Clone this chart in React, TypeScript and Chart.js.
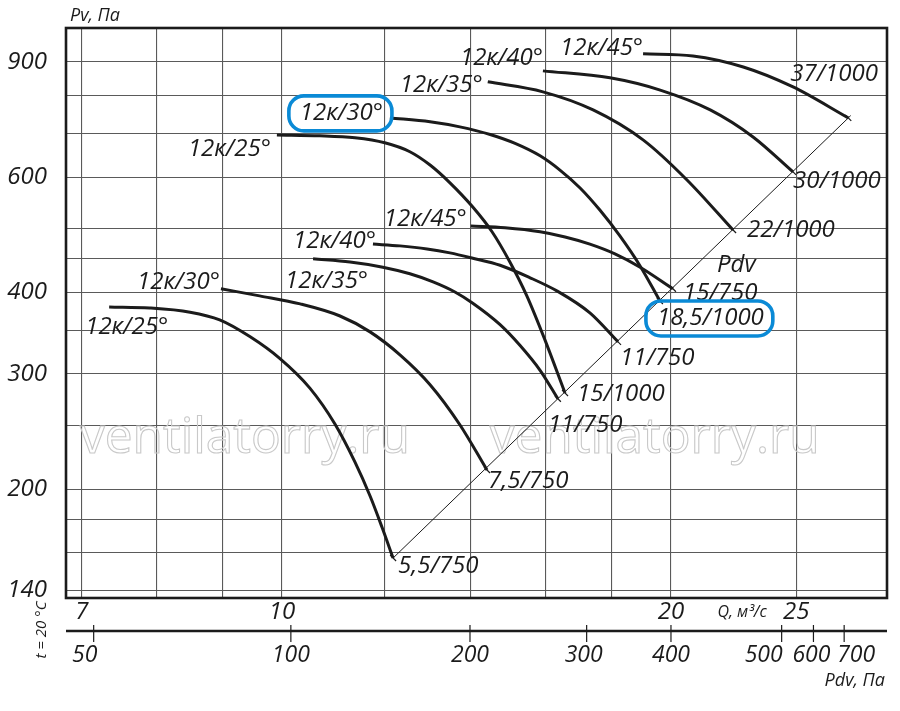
import React, { useEffect, useRef } from 'react';
import { Chart, registerables } from 'chart.js';

Chart.register(...registerables);

const FONT = '"Open Sans", "DejaVu Sans", sans-serif';
const INK = '#1b1b1b';

// ---- Axes ----
const qGrid = [7, 8, 9, 10, 12, 14, 16, 18, 20, 25];
const qLabels = [7, 10, 20, 25];
const qMin = 6.806;
const qMax = 29.39;

const pGrid = [140, 160, 180, 200, 250, 300, 350, 400, 450, 500, 600, 700, 800, 900];
const pLabels = [140, 200, 300, 400, 600, 900];
const pMin = 136.4;
const pMax = 1014;

// Pdv scale (Pa) and where each tick sits on the Q axis
const pdvTicks = [50, 100, 200, 300, 400, 500, 600, 700];
const pdvAtQ = [7.15, 10.16, 13.98, 17.21, 20, 24.36, 25.78, 27.23];
const pdvLabelShift = [-9, 0, 0, -3, 0, -18, -2, 12];

// ---- Curves, 750 rpm ----
const q750_25 = [7.35, 7.9, 8.49, 8.95, 9.45, 9.96, 10.51, 10.99, 11.39, 11.7, 11.95, 12.19];
const p750_25 = [380, 378.5, 373, 363, 342, 317, 285.5, 251.6, 220, 195.3, 175.1, 157];

const q750_30 = [8.97, 9.61, 10.33, 11.09, 11.7, 12.34, 13.02, 13.73, 14.41];
const p750_30 = [405, 395, 384, 368, 348, 321, 289, 251, 214];

const q750_35 = [10.57, 11.29, 11.97, 12.56, 13.09, 13.61, 14.05, 14.75, 15.28, 15.84, 16.35];
const p750_35 = [450, 445, 437, 427, 415, 400.5, 385, 357, 332, 304, 275];

const q750_40 = [11.76, 12.34, 12.95, 13.49, 14.05, 14.75, 15.56, 16.32, 17.31, 18.2];
const p750_40 = [474, 471, 466, 459.5, 451, 440, 421, 402, 372, 336];

const q750_45 = [14.0, 14.88, 15.84, 16.56, 17.31, 18.1, 18.93, 20.07];
const p750_45 = [505, 502, 495, 486, 474, 458, 437, 405];

// ---- Curves, 1000 rpm ----
const q1000_25 = [9.91, 10.7, 11.39, 12.01, 12.56, 13.02, 13.49, 14.05, 14.54, 15.01, 15.47, 15.98, 16.56];
const p1000_25 = [696, 694, 689, 677, 656, 626, 588, 540, 495, 445, 395, 338, 280.6];

const q1000_30 = [12.12, 13.02, 13.73, 14.49, 15.15, 15.84, 16.41, 17.01, 17.62, 18.26, 18.93, 19.61];
const p1000_30 = [739, 729, 716, 697, 675.5, 646.6, 615, 577.5, 534.3, 487.8, 438.9, 388];

const q1000_35 = [14.43, 15.92, 17.41, 19.03, 20.58, 22.34];
const p1000_35 = [839, 810, 760, 684, 594, 498];

const q1000_40 = [15.92, 17.94, 19.62, 21.45, 23.15, 24.86];
const p1000_40 = [872, 851, 815, 760, 691, 611];

const q1000_45 = [19.03, 20.8, 22.75, 24.86, 27.43];
const p1000_45 = [926, 919, 884, 824, 739];

// Pdv line (dynamic pressure)
const qPdvLine = [12.19, 27.55];
const pPdvLine = [157, 745];

const angleNames = ['12к/25°', '12к/30°', '12к/35°', '12к/40°', '12к/45°', '12к/25°', '12к/30°', '12к/35°', '12к/40°', '12к/45°'];
const powerNames = ['5,5/750', '7,5/750', '11/750', '11/750', '15/750', '15/1000', '18,5/1000', '22/1000', '30/1000', '37/1000'];

const curveQ = [q750_25, q750_30, q750_35, q750_40, q750_45, q1000_25, q1000_30, q1000_35, q1000_40, q1000_45];
const curveP = [p750_25, p750_30, p750_35, p750_40, p750_45, p1000_25, p1000_30, p1000_35, p1000_40, p1000_45];

// label layout: offsets in px (left edge, vertical middle) from curve start / end
const angleOffsets: [number, number][] = [
  [-24, 20], [-84, -7], [-28, 22], [-80, -3], [-87, -7],
  [-89, 14], [-90, -5], [-88, 3], [-83, -13], [-83, -6],
];
const powerOffsets: [number, number][] = [
  [5, 8], [1, 11], [-10, 26], [2, 16], [10, 4],
  [12, 1], [-3, 17], [14, 0], [0, 9], [-58, -44],
];
const boxedAngle = [6];
const boxedPower = [6];

const decorPlugin = {
  id: 'decor',
  beforeDraw(chart: any) {
    const { ctx } = chart;
    ctx.save();
    ctx.fillStyle = '#ffffff';
    ctx.fillRect(0, 0, chart.width, chart.height);
    ctx.restore();
  },
  beforeDatasetsDraw(chart: any) {
    const { ctx, chartArea: a } = chart;
    ctx.save();
    ctx.font = `50px ${FONT}`;
    ctx.strokeStyle = '#c9c9c9';
    ctx.lineWidth = 1.1;
    ctx.textAlign = 'center';
    ctx.textBaseline = 'middle';
    const w = a.right - a.left;
    const h = a.bottom - a.top;
    const yy = a.top + h * 0.72;
    ctx.strokeText('ventilatorry.ru', a.left + w * 0.218, yy, 330);
    ctx.strokeText('ventilatorry.ru', a.left + w * 0.717, yy, 330);
    ctx.restore();
  },
  afterDatasetsDraw(chart: any) {
    const { ctx, chartArea: a } = chart;
    const xs = chart.scales.x;
    const ys = chart.scales.y;
    ctx.save();

    // frame
    ctx.strokeStyle = INK;
    ctx.lineWidth = 2.6;
    ctx.strokeRect(a.left, a.top, a.right - a.left, a.bottom - a.top);

    // Pdv axis
    const yAx = a.bottom + 33;
    ctx.beginPath();
    ctx.moveTo(a.left, yAx);
    ctx.lineTo(a.right, yAx);
    ctx.lineWidth = 2.6;
    ctx.stroke();
    ctx.lineWidth = 1.2;
    ctx.font = `italic 23px ${FONT}`;
    ctx.fillStyle = INK;
    ctx.textAlign = 'center';
    ctx.textBaseline = 'middle';
    pdvTicks.forEach((v, i) => {
      const x = xs.getPixelForValue(pdvAtQ[i]);
      ctx.beginPath();
      ctx.moveTo(x, yAx - 6);
      ctx.lineTo(x, yAx + 11);
      ctx.stroke();
      ctx.fillText(String(v), x + pdvLabelShift[i], yAx + 24);
    });

    // axis titles
    ctx.font = `italic 18px ${FONT}`;
    ctx.textAlign = 'left';
    ctx.fillText('Pv, Па', a.left + 4, a.top - 12);
    ctx.textAlign = 'right';
    ctx.fillText('Pdv, Па', a.right - 2, yAx + 50);
    ctx.font = `italic 16px ${FONT}`;
    ctx.textAlign = 'center';
    ctx.fillText('Q, м³/с', xs.getPixelForValue(22.7), a.bottom + 14);
    ctx.save();
    ctx.translate(a.left - 24, a.bottom + 32);
    ctx.rotate(-Math.PI / 2);
    ctx.font = `italic 15px ${FONT}`;
    ctx.fillText('t = 20 °C', 0, 0);
    ctx.restore();

    // small end marks across the Pdv line
    ctx.lineWidth = 1.2;
    curveQ.forEach((qs, i) => {
      const ps = curveP[i];
      const ex = xs.getPixelForValue(qs[qs.length - 1]);
      const ey = ys.getPixelForValue(ps[ps.length - 1]);
      ctx.beginPath();
      ctx.moveTo(ex - 3, ey - 3);
      ctx.lineTo(ex + 3, ey + 3);
      ctx.stroke();
    });

    // curve labels
    ctx.font = `italic 24px ${FONT}`;
    ctx.textAlign = 'left';
    ctx.textBaseline = 'middle';
    const drawBox = (x: number, y: number, w: number) => {
      ctx.save();
      ctx.strokeStyle = '#0a8ad6';
      ctx.lineWidth = 3.6;
      ctx.beginPath();
      (ctx as any).roundRect(x - 11, y - 17, w + 20, 35, 15);
      ctx.stroke();
      ctx.restore();
    };
    curveQ.forEach((qs, i) => {
      const ps = curveP[i];
      const sx = xs.getPixelForValue(qs[0]);
      const sy = ys.getPixelForValue(ps[0]);
      const ex = xs.getPixelForValue(qs[qs.length - 1]);
      const ey = ys.getPixelForValue(ps[ps.length - 1]);
      const [adx, ady] = angleOffsets[i];
      const [pdx, pdy] = powerOffsets[i];
      const ax = sx + adx;
      const ay = sy + ady;
      ctx.fillText(angleNames[i], ax, ay);
      if (boxedAngle.includes(i)) drawBox(ax, ay, ctx.measureText(angleNames[i]).width);
      const px = ex + pdx;
      const py = ey + pdy;
      ctx.fillText(powerNames[i], px, py);
      if (boxedPower.includes(i)) drawBox(px, py, ctx.measureText(powerNames[i]).width);
      if (i === 4) ctx.fillText('Pdv', ex + 44, ey - 24);
    });

    ctx.restore();
  },
};

export default function App() {
  const ref = useRef<HTMLCanvasElement>(null);
  useEffect(() => {
    const canvas = ref.current;
    if (!canvas) return;
    const curveSets = curveQ.map((qs, i) => ({
      data: qs.map((q, j) => ({ x: q, y: curveP[i][j] })),
      borderColor: INK,
      borderWidth: 3,
      pointRadius: 0,
      showLine: true,
      cubicInterpolationMode: 'monotone' as const,
      fill: false,
    }));
    const pdvSet = {
      data: qPdvLine.map((q, j) => ({ x: q, y: pPdvLine[j] })),
      borderColor: INK,
      borderWidth: 1,
      pointRadius: 0,
      showLine: true,
      fill: false,
    };
    const tickFont = { family: FONT, size: 24, style: 'italic' as const, lineHeight: 1.2 };
    const chart = new Chart(canvas, {
      type: 'scatter',
      data: { datasets: [pdvSet, ...curveSets] as any },
      options: {
        animation: false,
        responsive: false,
        devicePixelRatio: 1,
        layout: { padding: { top: 28, right: 13, left: 0, bottom: 0 } },
        plugins: { legend: { display: false }, tooltip: { enabled: false } },
        scales: {
          x: {
            type: 'logarithmic',
            min: qMin,
            max: qMax,
            afterBuildTicks: (s: any) => {
              s.ticks = qGrid.map((v) => ({ value: v }));
            },
            afterFit: (s: any) => {
              s.height = 113;
              s.paddingLeft = 0;
              s.paddingRight = 0;
            },
            ticks: {
              autoSkip: false,
              maxRotation: 0,
              padding: 0,
              color: INK,
              font: tickFont,
              callback: (v: any) => (qLabels.includes(Number(v)) ? String(v) : ''),
            },
            grid: { color: '#5a5a5a', lineWidth: 1.1, drawTicks: false },
            border: { display: false },
          },
          y: {
            type: 'logarithmic',
            min: pMin,
            max: pMax,
            afterBuildTicks: (s: any) => {
              s.ticks = pGrid.map((v) => ({ value: v }));
            },
            afterFit: (s: any) => {
              s.width = 66;
              s.paddingTop = 0;
              s.paddingBottom = 0;
            },
            ticks: {
              autoSkip: false,
              padding: 19,
              color: INK,
              font: tickFont,
              callback: (v: any) => (pLabels.includes(Number(v)) ? String(v) : ''),
            },
            grid: { color: '#5a5a5a', lineWidth: 1.1, drawTicks: false },
            border: { display: false },
          },
        },
      },
      plugins: [decorPlugin],
    });
    return () => chart.destroy();
  }, []);
  return (
    <div style={{ position: 'absolute', left: 0, top: 0, width: 900, height: 711, background: '#fff' }}>
      <canvas ref={ref} width={900} height={711} style={{ display: 'block', width: 900, height: 711 }} />
    </div>
  );
}
